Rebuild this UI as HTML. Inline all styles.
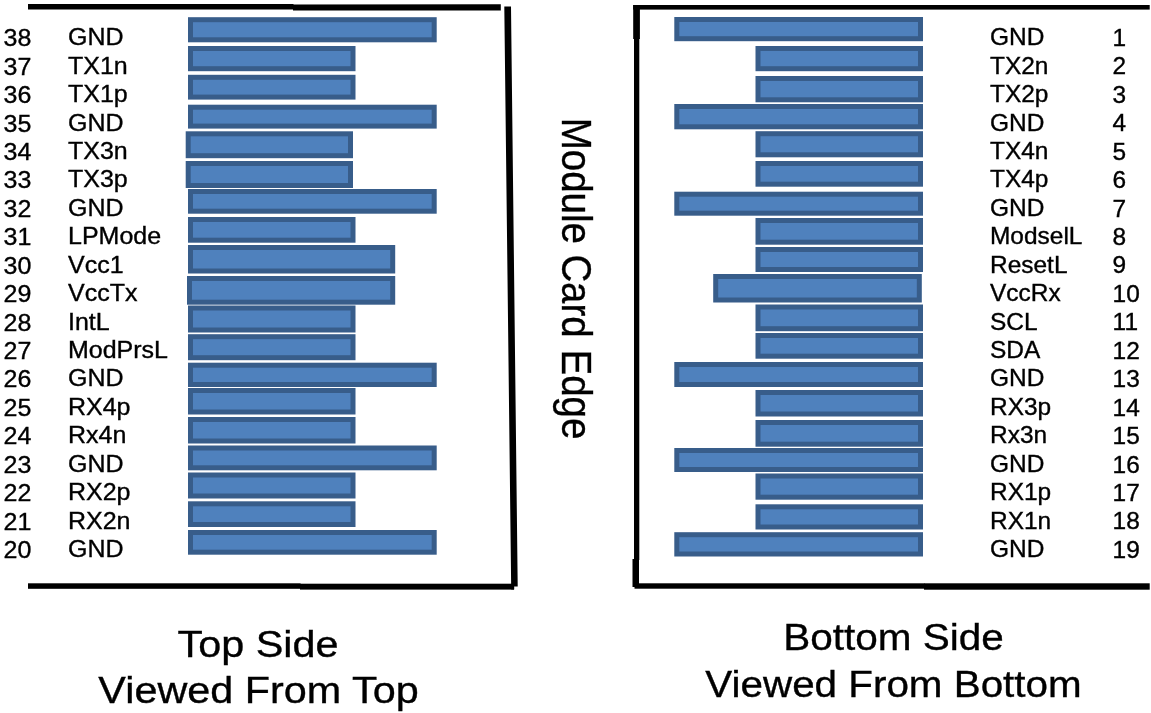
<!DOCTYPE html>
<html><head><meta charset="utf-8"><title>Module Card Edge</title>
<style>html,body{margin:0;padding:0;background:#fff;overflow:hidden;}svg{display:block}</style></head>
<body>
<svg width="1151" height="713" viewBox="0 0 1151 713">
<rect x="0" y="0" width="1151" height="713" fill="#fff" stroke="none"/>
<g fill="#4F81BD" stroke="#385D8A" stroke-width="5">
<rect x="190.50" y="19.70" width="243.70" height="20.10"/>
<rect x="190.50" y="48.50" width="162.50" height="20.20"/>
<rect x="190.50" y="77.30" width="162.50" height="19.80"/>
<rect x="190.50" y="107.20" width="243.70" height="18.90"/>
<rect x="188.20" y="133.80" width="162.30" height="21.90"/>
<rect x="188.20" y="163.50" width="162.30" height="22.00"/>
<rect x="190.50" y="191.50" width="243.70" height="19.70"/>
<rect x="190.50" y="219.50" width="162.50" height="20.70"/>
<rect x="190.50" y="247.50" width="202.20" height="23.50"/>
<rect x="189.50" y="278.50" width="203.20" height="23.70"/>
<rect x="190.50" y="308.00" width="162.50" height="22.00"/>
<rect x="190.50" y="336.70" width="162.50" height="21.00"/>
<rect x="190.50" y="365.20" width="243.70" height="19.30"/>
<rect x="190.50" y="390.50" width="162.50" height="21.50"/>
<rect x="190.50" y="419.50" width="162.50" height="21.50"/>
<rect x="190.50" y="448.00" width="243.70" height="19.80"/>
<rect x="190.50" y="475.00" width="162.50" height="21.00"/>
<rect x="190.50" y="503.80" width="162.50" height="20.70"/>
<rect x="190.50" y="532.50" width="243.70" height="19.70"/>
<rect x="676.80" y="19.50" width="243.70" height="19.20"/>
<rect x="758.00" y="48.50" width="162.50" height="20.20"/>
<rect x="758.00" y="78.50" width="162.50" height="21.30"/>
<rect x="676.80" y="106.50" width="243.70" height="20.30"/>
<rect x="758.00" y="133.70" width="162.50" height="21.10"/>
<rect x="758.00" y="163.50" width="162.50" height="20.70"/>
<rect x="676.80" y="194.20" width="243.70" height="19.00"/>
<rect x="758.00" y="220.50" width="162.50" height="21.70"/>
<rect x="758.00" y="249.50" width="162.50" height="20.00"/>
<rect x="715.70" y="276.50" width="203.60" height="23.50"/>
<rect x="758.00" y="307.00" width="162.50" height="21.70"/>
<rect x="758.00" y="335.50" width="162.50" height="20.70"/>
<rect x="676.80" y="364.50" width="243.70" height="20.00"/>
<rect x="758.00" y="392.50" width="162.50" height="21.50"/>
<rect x="758.00" y="422.50" width="162.50" height="21.70"/>
<rect x="676.80" y="450.50" width="243.70" height="19.00"/>
<rect x="758.00" y="476.00" width="162.50" height="21.20"/>
<rect x="758.00" y="506.80" width="162.50" height="20.20"/>
<rect x="676.80" y="534.70" width="243.70" height="19.30"/>
</g>
<g fill="#000">
<rect x="28" y="4" width="265.5" height="5.5"/>
<polygon points="293,4.4 500.8,4.3 500.8,10.5 293,10.4"/>
<polygon points="504.3,6.5 511,6.5 517.7,586.4 514.2,586.4 514.2,589.5 511.2,589.5"/>
<rect x="28" y="583.3" width="272.5" height="5.5"/>
<rect x="300" y="583.7" width="214" height="5.9"/>
<rect x="633.2" y="5" width="516.5" height="4.6"/>
<rect x="633.2" y="5" width="6.7" height="34"/>
<rect x="634" y="38" width="5.3" height="522"/>
<rect x="632.5" y="559" width="6.5" height="28"/>
<rect x="634.5" y="583.3" width="290" height="5.4"/>
<rect x="924" y="583.3" width="225.7" height="6.4"/>
</g>
<g fill="#000" stroke="#000" stroke-width="0.35" font-family="'Liberation Sans', sans-serif">
<text transform="translate(3.50,46.20) scale(1.064,1)" font-size="23.5" text-anchor="start">38</text>
<text transform="translate(68.00,45.20) scale(1.064,1)" font-size="23.5" text-anchor="start">GND</text>
<text transform="translate(3.50,74.64) scale(1.064,1)" font-size="23.5" text-anchor="start">37</text>
<text transform="translate(68.00,73.64) scale(1.064,1)" font-size="23.5" text-anchor="start">TX1n</text>
<text transform="translate(3.50,103.08) scale(1.064,1)" font-size="23.5" text-anchor="start">36</text>
<text transform="translate(68.00,102.08) scale(1.064,1)" font-size="23.5" text-anchor="start">TX1p</text>
<text transform="translate(3.50,131.52) scale(1.064,1)" font-size="23.5" text-anchor="start">35</text>
<text transform="translate(68.00,130.52) scale(1.064,1)" font-size="23.5" text-anchor="start">GND</text>
<text transform="translate(3.50,159.96) scale(1.064,1)" font-size="23.5" text-anchor="start">34</text>
<text transform="translate(68.00,158.96) scale(1.064,1)" font-size="23.5" text-anchor="start">TX3n</text>
<text transform="translate(3.50,188.40) scale(1.064,1)" font-size="23.5" text-anchor="start">33</text>
<text transform="translate(68.00,187.40) scale(1.064,1)" font-size="23.5" text-anchor="start">TX3p</text>
<text transform="translate(3.50,216.84) scale(1.064,1)" font-size="23.5" text-anchor="start">32</text>
<text transform="translate(68.00,215.84) scale(1.064,1)" font-size="23.5" text-anchor="start">GND</text>
<text transform="translate(3.50,245.28) scale(1.064,1)" font-size="23.5" text-anchor="start">31</text>
<text transform="translate(68.00,244.28) scale(1.064,1)" font-size="23.5" text-anchor="start">LPMode</text>
<text transform="translate(3.50,273.72) scale(1.064,1)" font-size="23.5" text-anchor="start">30</text>
<text transform="translate(68.00,272.72) scale(1.064,1)" font-size="23.5" text-anchor="start">Vcc1</text>
<text transform="translate(3.50,302.16) scale(1.064,1)" font-size="23.5" text-anchor="start">29</text>
<text transform="translate(68.00,301.16) scale(1.064,1)" font-size="23.5" text-anchor="start">VccTx</text>
<text transform="translate(3.50,330.60) scale(1.064,1)" font-size="23.5" text-anchor="start">28</text>
<text transform="translate(68.00,329.60) scale(1.064,1)" font-size="23.5" text-anchor="start">IntL</text>
<text transform="translate(3.50,359.04) scale(1.064,1)" font-size="23.5" text-anchor="start">27</text>
<text transform="translate(68.00,358.04) scale(1.064,1)" font-size="23.5" text-anchor="start">ModPrsL</text>
<text transform="translate(3.50,387.48) scale(1.064,1)" font-size="23.5" text-anchor="start">26</text>
<text transform="translate(68.00,386.48) scale(1.064,1)" font-size="23.5" text-anchor="start">GND</text>
<text transform="translate(3.50,415.92) scale(1.064,1)" font-size="23.5" text-anchor="start">25</text>
<text transform="translate(68.00,414.92) scale(1.064,1)" font-size="23.5" text-anchor="start">RX4p</text>
<text transform="translate(3.50,444.36) scale(1.064,1)" font-size="23.5" text-anchor="start">24</text>
<text transform="translate(68.00,443.36) scale(1.064,1)" font-size="23.5" text-anchor="start">Rx4n</text>
<text transform="translate(3.50,472.80) scale(1.064,1)" font-size="23.5" text-anchor="start">23</text>
<text transform="translate(68.00,471.80) scale(1.064,1)" font-size="23.5" text-anchor="start">GND</text>
<text transform="translate(3.50,501.24) scale(1.064,1)" font-size="23.5" text-anchor="start">22</text>
<text transform="translate(68.00,500.24) scale(1.064,1)" font-size="23.5" text-anchor="start">RX2p</text>
<text transform="translate(3.50,529.68) scale(1.064,1)" font-size="23.5" text-anchor="start">21</text>
<text transform="translate(68.00,528.68) scale(1.064,1)" font-size="23.5" text-anchor="start">RX2n</text>
<text transform="translate(3.50,558.12) scale(1.064,1)" font-size="23.5" text-anchor="start">20</text>
<text transform="translate(68.00,557.12) scale(1.064,1)" font-size="23.5" text-anchor="start">GND</text>
<text transform="translate(990.00,45.20) scale(1.064,1)" font-size="23" text-anchor="start">GND</text>
<text transform="translate(1112.60,45.90) scale(1.064,1)" font-size="23" text-anchor="start">1</text>
<text transform="translate(990.00,73.64) scale(1.064,1)" font-size="23" text-anchor="start">TX2n</text>
<text transform="translate(1112.60,74.34) scale(1.064,1)" font-size="23" text-anchor="start">2</text>
<text transform="translate(990.00,102.08) scale(1.064,1)" font-size="23" text-anchor="start">TX2p</text>
<text transform="translate(1112.60,102.78) scale(1.064,1)" font-size="23" text-anchor="start">3</text>
<text transform="translate(990.00,130.52) scale(1.064,1)" font-size="23" text-anchor="start">GND</text>
<text transform="translate(1112.60,131.22) scale(1.064,1)" font-size="23" text-anchor="start">4</text>
<text transform="translate(990.00,158.96) scale(1.064,1)" font-size="23" text-anchor="start">TX4n</text>
<text transform="translate(1112.60,159.66) scale(1.064,1)" font-size="23" text-anchor="start">5</text>
<text transform="translate(990.00,187.40) scale(1.064,1)" font-size="23" text-anchor="start">TX4p</text>
<text transform="translate(1112.60,188.10) scale(1.064,1)" font-size="23" text-anchor="start">6</text>
<text transform="translate(990.00,215.84) scale(1.064,1)" font-size="23" text-anchor="start">GND</text>
<text transform="translate(1112.60,216.54) scale(1.064,1)" font-size="23" text-anchor="start">7</text>
<text transform="translate(990.00,244.28) scale(1.064,1)" font-size="23" text-anchor="start">ModselL</text>
<text transform="translate(1112.60,244.98) scale(1.064,1)" font-size="23" text-anchor="start">8</text>
<text transform="translate(990.00,272.72) scale(1.064,1)" font-size="23" text-anchor="start">ResetL</text>
<text transform="translate(1112.60,273.42) scale(1.064,1)" font-size="23" text-anchor="start">9</text>
<text transform="translate(990.00,301.16) scale(1.064,1)" font-size="23" text-anchor="start">VccRx</text>
<text transform="translate(1112.60,301.86) scale(1.064,1)" font-size="23" text-anchor="start">10</text>
<text transform="translate(990.00,329.60) scale(1.064,1)" font-size="23" text-anchor="start">SCL</text>
<text transform="translate(1112.60,330.30) scale(1.064,1)" font-size="23" text-anchor="start">11</text>
<text transform="translate(990.00,358.04) scale(1.064,1)" font-size="23" text-anchor="start">SDA</text>
<text transform="translate(1112.60,358.74) scale(1.064,1)" font-size="23" text-anchor="start">12</text>
<text transform="translate(990.00,386.48) scale(1.064,1)" font-size="23" text-anchor="start">GND</text>
<text transform="translate(1112.60,387.18) scale(1.064,1)" font-size="23" text-anchor="start">13</text>
<text transform="translate(990.00,414.92) scale(1.064,1)" font-size="23" text-anchor="start">RX3p</text>
<text transform="translate(1112.60,415.62) scale(1.064,1)" font-size="23" text-anchor="start">14</text>
<text transform="translate(990.00,443.36) scale(1.064,1)" font-size="23" text-anchor="start">Rx3n</text>
<text transform="translate(1112.60,444.06) scale(1.064,1)" font-size="23" text-anchor="start">15</text>
<text transform="translate(990.00,471.80) scale(1.064,1)" font-size="23" text-anchor="start">GND</text>
<text transform="translate(1112.60,472.50) scale(1.064,1)" font-size="23" text-anchor="start">16</text>
<text transform="translate(990.00,500.24) scale(1.064,1)" font-size="23" text-anchor="start">RX1p</text>
<text transform="translate(1112.60,500.94) scale(1.064,1)" font-size="23" text-anchor="start">17</text>
<text transform="translate(990.00,528.68) scale(1.064,1)" font-size="23" text-anchor="start">RX1n</text>
<text transform="translate(1112.60,529.38) scale(1.064,1)" font-size="23" text-anchor="start">18</text>
<text transform="translate(990.00,557.12) scale(1.064,1)" font-size="23" text-anchor="start">GND</text>
<text transform="translate(1112.60,557.82) scale(1.064,1)" font-size="23" text-anchor="start">19</text>
<text transform="translate(258.00,656.80) scale(1.118,1)" font-size="37" text-anchor="middle">Top Side</text>
<text transform="translate(258.50,703.20) scale(1.118,1)" font-size="37" text-anchor="middle">Viewed From Top</text>
<text transform="translate(893.50,650.00) scale(1.095,1)" font-size="37" text-anchor="middle">Bottom Side</text>
<text transform="translate(893.50,697.00) scale(1.092,1)" font-size="37" text-anchor="middle">Viewed From Bottom</text>
<text transform="translate(562,117.8) rotate(90) scale(0.916,1)" font-size="42">Module</text>
<text transform="translate(562,254.4) rotate(90) scale(0.914,1)" font-size="42">Card</text>
<text transform="translate(562,349.45) rotate(90) scale(0.918,1)" font-size="42">Edge</text>
</g>
</svg>
</body></html>
